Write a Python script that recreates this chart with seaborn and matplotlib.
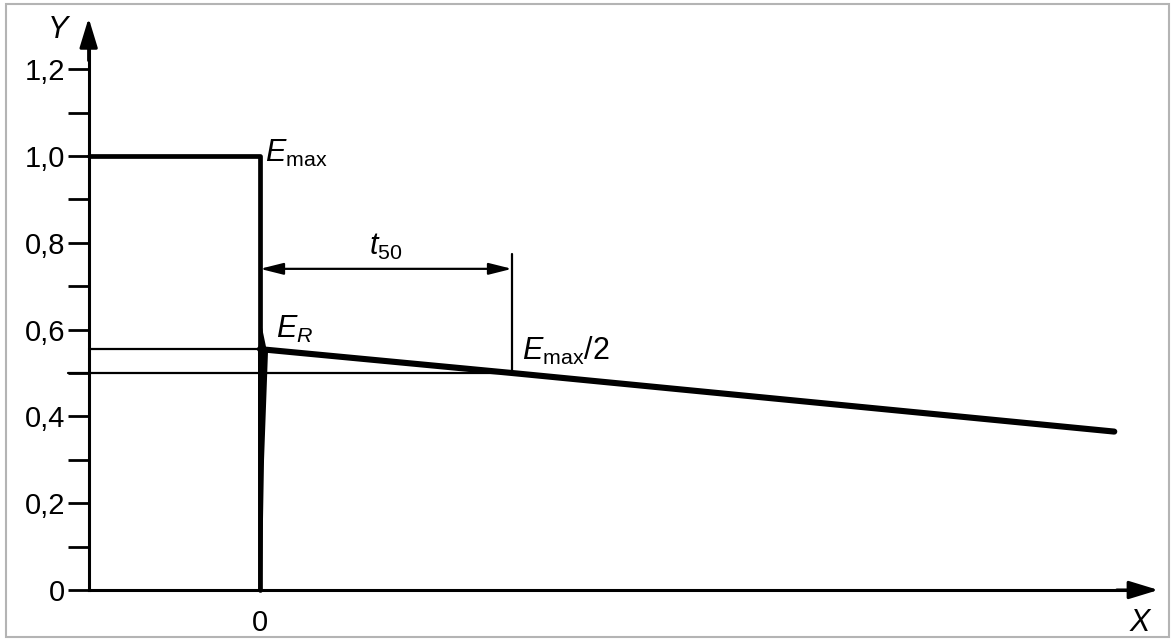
import numpy as np
import matplotlib
matplotlib.use("Agg")
import matplotlib.pyplot as plt
import seaborn as sns
from matplotlib.patches import Rectangle, Polygon

# data (x in units of t50, y relative to Emax)
step_x = [-0.68, 0.0, 0.0]
step_y = [1.0, 1.0, 0.0]
decay_x = [0.0, 1.0, 3.39]
decay_y = [0.555, 0.5, 0.365]
er_level = 0.555
half_level = 0.5
t50_x = 1.0
yticks = [0, 0.1, 0.2, 0.3, 0.4, 0.5, 0.6, 0.7, 0.8, 0.9, 1.0, 1.1, 1.2]
ytick_labels = ["0", "", "0,2", "", "0,4", "", "0,6", "", "0,8", "", "1,0", "", "1,2"]

sns.set_style("white")
plt.rcParams["font.family"] = ["Liberation Sans", "DejaVu Sans"]
plt.rcParams["mathtext.fontset"] = "custom"
plt.rcParams["mathtext.rm"] = "Liberation Sans"
plt.rcParams["mathtext.it"] = "Liberation Sans:italic"
plt.rcParams["text.color"] = "black"

fig = plt.figure(figsize=(11.75, 6.4), dpi=100)
ax = fig.add_axes([0, 0, 1, 1])
ax.set_xlim(-260 / 252, 915 / 252)
ax.set_ylim(-50 / 434, 590 / 434)
ax.patch.set_alpha(0)

# outer frame
fig.patches.append(Rectangle((6 / 1175, 3 / 640), 1163 / 1175, 633 / 640,
                             transform=fig.transFigure, fill=False,
                             edgecolor="#b4b4b4", lw=1.5))

# axes: spines with ticks, plus arrowheads
for s in ["top", "right"]:
    ax.spines[s].set_visible(False)
ax.spines["left"].set_position(("data", -0.68))
ax.spines["bottom"].set_position(("data", 0))
ax.spines["left"].set_bounds(0, 1.26)
ax.spines["bottom"].set_bounds(-0.68, 3.45)
for s in ["left", "bottom"]:
    ax.spines[s].set_linewidth(2.2)
    ax.spines[s].set_color("black")
ax.set_yticks(yticks)
ax.set_yticklabels(ytick_labels, fontsize=21)
ax.tick_params(axis="y", left=True, direction="out", length=15, width=2,
               pad=2, colors="black")
ax.set_xticks([0])
ax.set_xticklabels(["0"], fontsize=21)
ax.tick_params(axis="x", bottom=True, length=0, pad=14, colors="black")
ax.annotate("", xy=(-0.68, 1.318), xytext=(-0.68, 1.22),
            arrowprops=dict(arrowstyle="-|>,head_length=1.8,head_width=0.55",
                            color="black", lw=2.2, shrinkA=0, shrinkB=0))
ax.annotate("", xy=(3.565, 0), xytext=(3.40, 0),
            arrowprops=dict(arrowstyle="-|>,head_length=1.8,head_width=0.55",
                            color="black", lw=2.2, shrinkA=0, shrinkB=0))
ax.text(-0.80, 1.29, "Y", fontsize=22, style="italic", ha="center", va="center")
ax.text(3.49, -0.075, "X", fontsize=22, style="italic", ha="center", va="center")

# thin reference lines
ax.plot([-0.68, 0], [er_level, er_level], color="black", lw=1.6)
ax.plot([-0.76, t50_x], [half_level, half_level], color="black", lw=1.6)
ax.plot([t50_x, t50_x], [half_level, 0.775], color="black", lw=1.6)
ax.annotate("", xy=(0, 0.74), xytext=(t50_x, 0.74),
            arrowprops=dict(arrowstyle="<|-|>,head_length=1.4,head_width=0.35",
                            color="black", lw=1.6, shrinkA=0, shrinkB=0))

# main curves
sns.lineplot(x=step_x, y=step_y, sort=False, estimator=None, color="black",
             lw=3.4, ax=ax)
sns.lineplot(x=decay_x, y=decay_y, sort=False, estimator=None, color="black",
             lw=4.4, ax=ax)
ax.add_patch(Polygon([(-0.008, 0.55), (0.006, 0.61), (0.024, 0.56), (0.032, 0.553),
                      (0.016, 0.3), (0.007, 0.0), (-0.007, 0.0)],
                     closed=True, color="black", lw=0))

# labels
ax.text(0.02, 1.005, r"$E_{\mathrm{max}}$", fontsize=22, va="center", ha="left")
ax.text(0.065, 0.6, r"$E_R$", fontsize=22, va="center", ha="left")
ax.text(0.5, 0.79, r"$t_{50}$", fontsize=22, va="center", ha="center")
ax.text(1.04, 0.55, r"$E_{\mathrm{max}}/2$", fontsize=22, va="center", ha="left")

fig.savefig("out.png", dpi=100)
